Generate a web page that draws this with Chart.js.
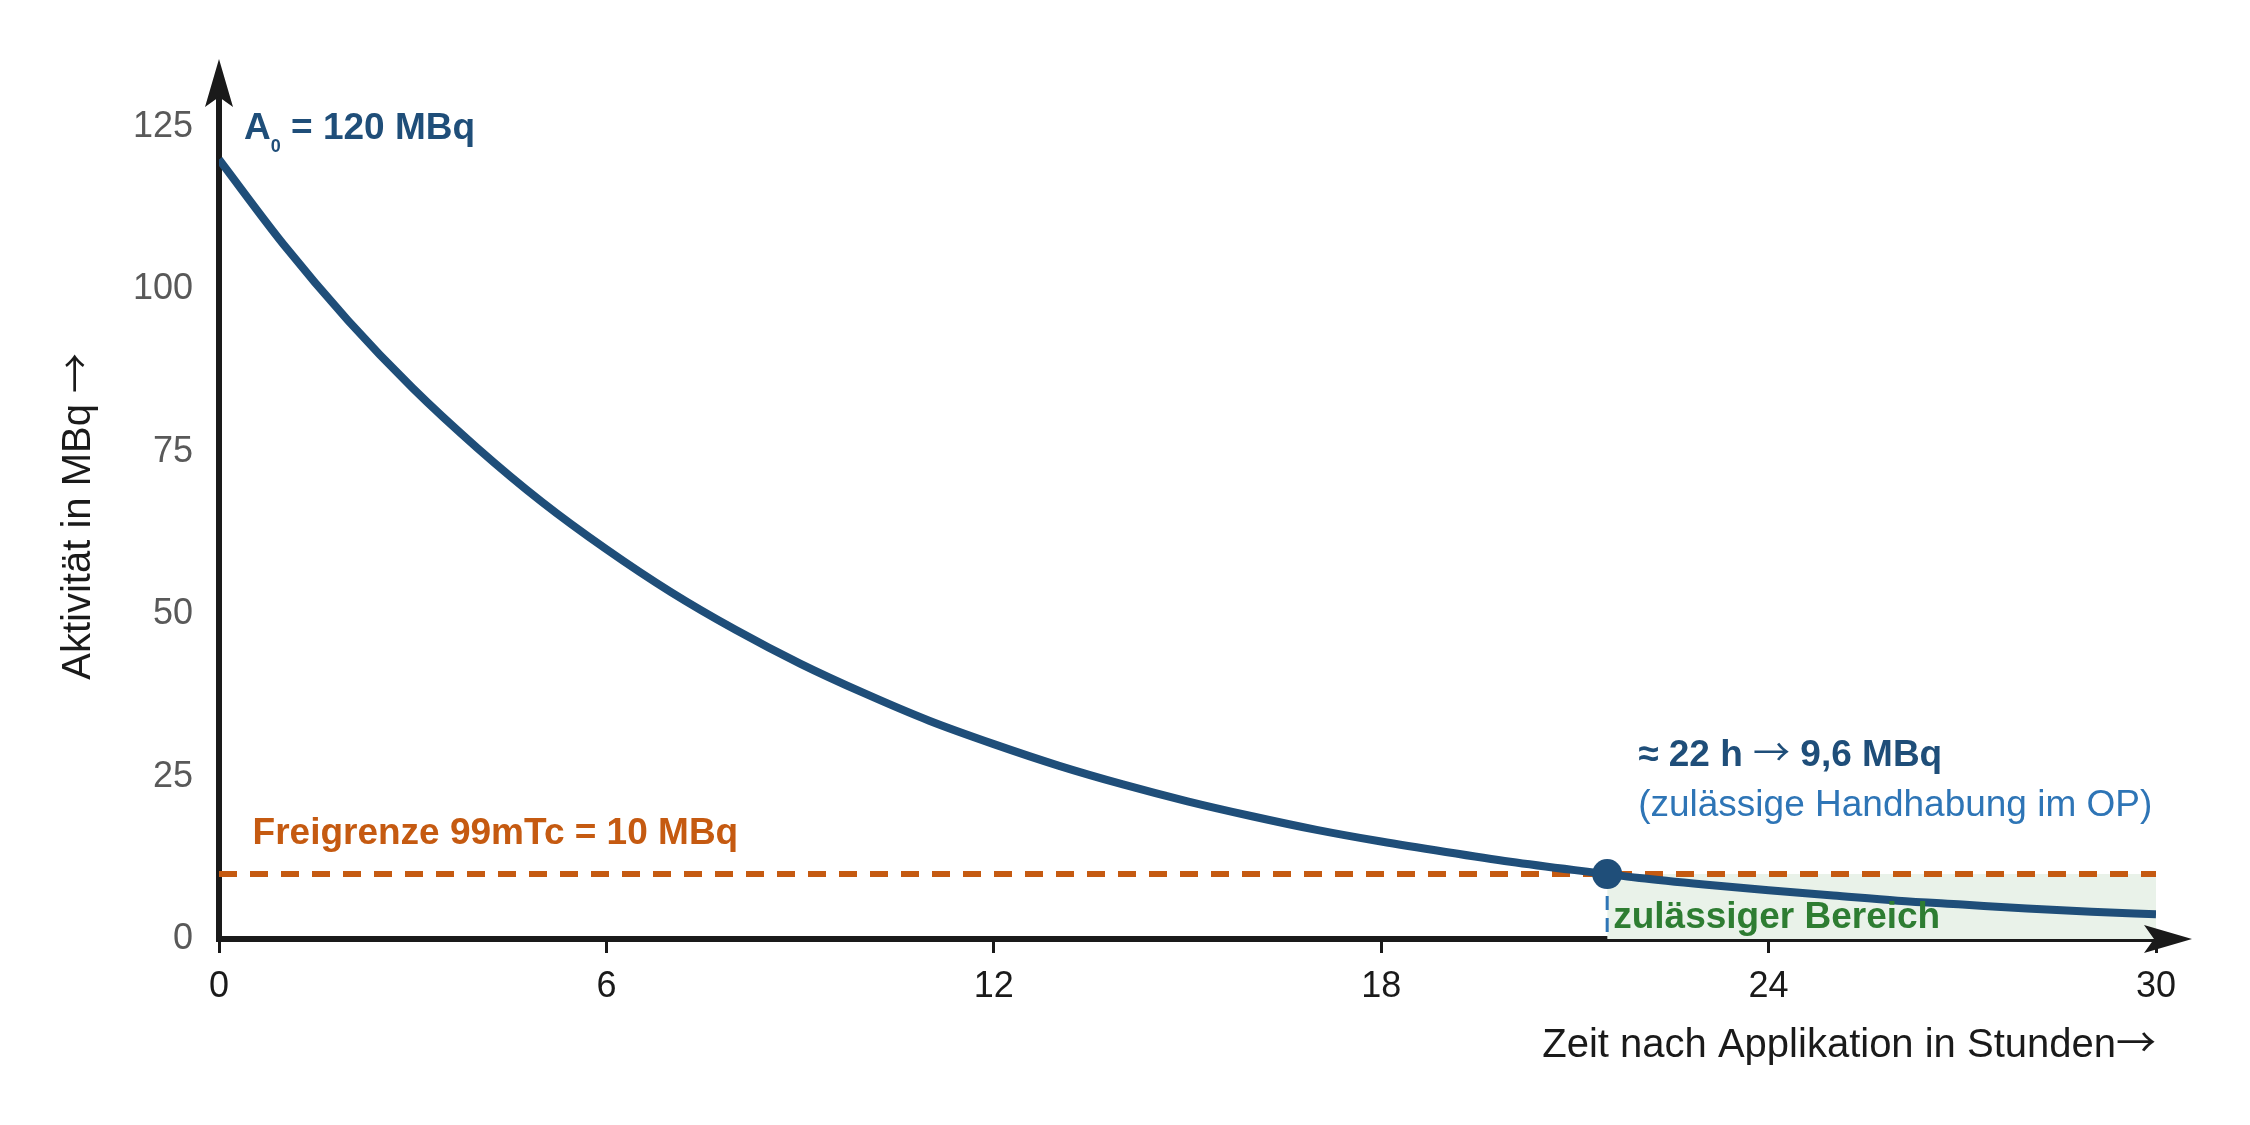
<!DOCTYPE html>
<html lang="de">
<head>
<meta charset="utf-8">
<title>Abklingkurve 99mTc</title>
<script src="https://cdn.jsdelivr.net/npm/chart.js@4.4.1/dist/chart.umd.min.js"></script>
<style>
  /* long thin arrows (→) as in the original, taken from the CJK font */
  @font-face {
    font-family: 'ArrowGlyphs';
    src: local('Noto Sans CJK SC'), local('Noto Sans CJK SC Regular'), local('NotoSansCJKsc-Regular'),
         local('Noto Sans CJK JP'), local('NotoSansCJKjp-Regular');
    unicode-range: U+2190-2199;
    font-weight: 100 900;
  }
  html, body { margin: 0; padding: 0; background: #fff; }
  #wrap { width: 2250px; height: 1125px; position: relative; }
</style>
</head>
<body>
<div id="wrap"><canvas id="decayChart"></canvas></div>
<script>
// --- Data ---
const hours = [0, 1, 2, 3, 4, 5, 6, 7, 8, 9, 10, 11, 12, 13, 14, 15,
               16, 17, 18, 19, 20, 21, 22, 23, 24, 25, 26, 27, 28, 29, 30];
const activity = [120, 106.9, 95.2, 84.8, 75.6, 67.3, 60, 53.4, 47.6, 42.4, 37.8, 33.6, 30, 26.7, 23.8, 21.2,
                  18.9, 16.8, 15, 13.4, 11.9, 10.6, 9.4, 8.4, 7.5, 6.7, 5.9, 5.3, 4.7, 4.2, 3.8];
const limitHours = [0, 30];
const limitValues = [10, 10];          // Freigrenze 99mTc
const allowedHours = [21.5, 30];       // green "zulässiger Bereich"
const allowedTop = [10, 10];
const markHour = [21.5];
const markValue = [10];
const xTicks = [0, 6, 12, 18, 24, 30];
const yTicks = [0, 25, 50, 75, 100, 125];

const FONT = '"ArrowGlyphs", "Liberation Sans", Arial, Helvetica, sans-serif';
const AXIS = '#1a1a1a';
const DARK_BLUE = '#1f4e79';
const ORANGE = '#c55a11';

const pts = (xs, ys) => xs.map((v, i) => ({ x: v, y: ys[i] }));

// --- Axis arrows (extends the borders past the chart area) ---
function arrowHead(ctx, tx, ty, dx, dy) {
    const len = 48, half = 14, notch = 10;
    const bx = tx - dx * len, by = ty - dy * len;
    const px = -dy, py = dx;
    ctx.beginPath();
    ctx.moveTo(tx, ty);
    ctx.lineTo(bx + px * half, by + py * half);
    ctx.lineTo(tx - dx * (len - notch), ty - dy * (len - notch));
    ctx.lineTo(bx - px * half, by - py * half);
    ctx.closePath();
    ctx.fill();
}

const axisArrows = {
    id: 'axisArrows',
    afterDraw(chart) {
        const { ctx, chartArea: a } = chart;
        ctx.save();
        ctx.strokeStyle = AXIS;
        ctx.fillStyle = AXIS;
        ctx.lineWidth = 6;
        ctx.beginPath();
        ctx.moveTo(a.left, a.top);
        ctx.lineTo(a.left, a.top - 30);
        ctx.moveTo(a.right, a.bottom);
        ctx.lineTo(a.right + 8, a.bottom);
        ctx.stroke();
        arrowHead(ctx, a.left, a.top - 68, 0, -1);
        arrowHead(ctx, a.right + 36, a.bottom, 1, 0);
        ctx.restore();
    }
};

// --- Text annotations ---
const notes = {
    id: 'notes',
    afterDatasetsDraw(chart) {
        const { ctx, scales: { x, y } } = chart;
        ctx.save();
        ctx.textAlign = 'left';
        ctx.textBaseline = 'alphabetic';

        // A0 = 120 MBq
        let px = x.getPixelForValue(0) + 25;
        let py = y.getPixelForValue(123.2);
        ctx.fillStyle = DARK_BLUE;
        ctx.font = `bold 37px ${FONT}`;
        ctx.fillText('A', px, py);
        px += ctx.measureText('A').width;
        ctx.font = `bold 18px ${FONT}`;
        ctx.fillText('0', px, py + 13);
        px += ctx.measureText('0').width;
        ctx.font = `bold 37px ${FONT}`;
        ctx.fillText(' = 120 MBq', px, py);

        // Freigrenze
        ctx.fillStyle = ORANGE;
        ctx.font = `bold 37px ${FONT}`;
        ctx.fillText('Freigrenze 99mTc = 10 MBq', x.getPixelForValue(0.52), y.getPixelForValue(14.6));

        // handling note
        const nx = x.getPixelForValue(21.98);
        ctx.fillStyle = DARK_BLUE;
        ctx.font = `bold 37px ${FONT}`;
        ctx.fillText('\u2248 22 h \u2192 9,6 MBq', nx, y.getPixelForValue(26.6));
        ctx.fillStyle = '#2e75b6';
        ctx.font = `37px ${FONT}`;
        ctx.fillText('(zul\u00e4ssige Handhabung im OP)', nx, y.getPixelForValue(19));

        // allowed region
        ctx.fillStyle = '#2e7d32';
        ctx.font = `bold 37px ${FONT}`;
        ctx.fillText('zul\u00e4ssiger Bereich', x.getPixelForValue(markHour[0]) + 6, y.getPixelForValue(1.7));
        ctx.restore();
    }
};

function drawChart() {
    const ctx = document.getElementById('decayChart');

    new Chart(ctx, {
        type: 'line',
        data: {
            datasets: [
                {
                    label: 'Aktivität',
                    data: pts(hours, activity),
                    borderColor: DARK_BLUE,
                    borderWidth: 8,
                    cubicInterpolationMode: 'monotone',
                    pointRadius: 0,
                    fill: false,
                    order: 2
                },
                {
                    label: 'Zeitpunkt',
                    data: pts(markHour, markValue),
                    showLine: false,
                    pointRadius: 15,
                    pointBackgroundColor: DARK_BLUE,
                    pointBorderWidth: 0,
                    order: 1
                },
                {
                    label: 'Marke',
                    data: pts([markHour[0], markHour[0]], [markValue[0], 0]),
                    borderColor: '#2e75b6',
                    borderWidth: 3,
                    borderDash: [14, 8],
                    pointRadius: 0,
                    fill: false,
                    order: 3
                },
                {
                    label: 'Freigrenze',
                    data: pts(limitHours, limitValues),
                    borderColor: ORANGE,
                    borderWidth: 6,
                    borderDash: [18, 13],
                    pointRadius: 0,
                    fill: false,
                    order: 4
                },
                {
                    label: 'zulässiger Bereich',
                    data: pts(allowedHours, allowedTop),
                    borderWidth: 0,
                    borderColor: 'rgba(0,0,0,0)',
                    backgroundColor: '#e9f2e9',
                    pointRadius: 0,
                    fill: 'origin',
                    order: 5
                }
            ]
        },
        options: {
            responsive: true,
            maintainAspectRatio: false,
            animation: false,
            layout: { padding: { left: 0, top: 127, right: 94, bottom: 0 } },
            plugins: {
                legend: { display: false },
                tooltip: { enabled: false }
            },
            scales: {
                x: {
                    type: 'linear',
                    min: 0,
                    max: 30,
                    afterBuildTicks: s => { s.ticks = xTicks.map(v => ({ value: v })); },
                    afterFit: s => { s.height = 186; },
                    border: { display: true, color: AXIS, width: 6 },
                    grid: { display: true, drawOnChartArea: false, drawTicks: true, tickLength: 14, tickWidth: 3, tickColor: AXIS },
                    ticks: { color: AXIS, padding: 12, font: { family: FONT, size: 36 } },
                    title: {
                        display: true,
                        text: 'Zeit nach Applikation in Stunden\u2192',
                        align: 'end',
                        color: AXIS,
                        font: { family: FONT, size: 40 },
                        padding: { top: 0, bottom: 55 }
                    }
                },
                y: {
                    min: 0,
                    max: 125,
                    afterBuildTicks: s => { s.ticks = yTicks.map(v => ({ value: v })); },
                    afterFit: s => { s.width = 219; },
                    border: { display: true, color: AXIS, width: 6 },
                    grid: { display: false, drawTicks: false },
                    ticks: { color: '#595959', padding: 26, font: { family: FONT, size: 36 } },
                    title: {
                        display: true,
                        // leading spaces nudge the centred title towards the top, as in the original
                        text: '   Aktivität in MBq \u2192',
                        color: AXIS,
                        font: { family: FONT, size: 40 },
                        padding: { top: 55, bottom: 0 }
                    }
                }
            }
        },
        plugins: [axisArrows, notes]
    });
}

Promise.all([
    document.fonts.load('40px "ArrowGlyphs"', '\u2192'),
    document.fonts.load('bold 37px "ArrowGlyphs"', '\u2192')
]).catch(() => {}).then(drawChart);
</script>
</body>
</html>
